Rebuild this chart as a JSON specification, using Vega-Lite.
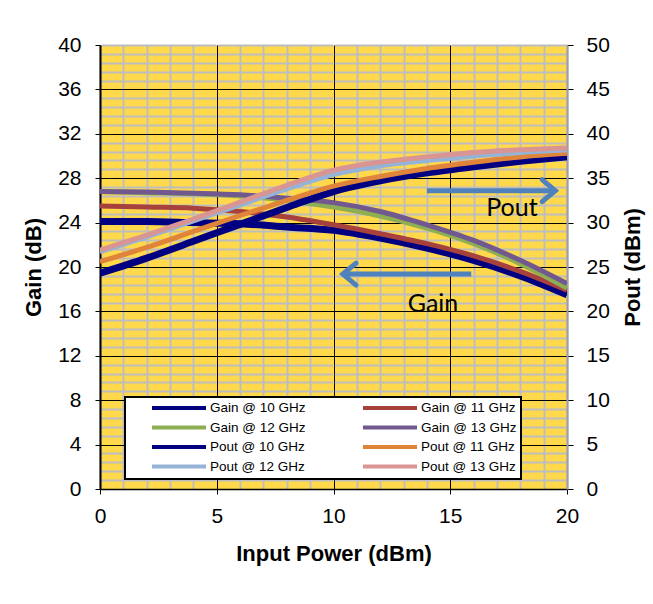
{
  "$schema": "https://vega.github.io/schema/vega-lite/v6.json",
  "width": 467,
  "height": 444,
  "autosize": {"type": "none"},
  "padding": {"left": 100, "top": 45, "right": 86, "bottom": 115},
  "background": "white",
  "config": {
    "view": {"fill": "#FFD84B", "stroke": null},
    "font": "Liberation Sans",
    "axis": {
      "labelFont": "Liberation Sans", "labelFontSize": 21, "labelColor": "black",
      "titleFont": "Liberation Sans", "titleFontSize": 22, "titleFontWeight": "bold", "titleColor": "black",
      "tickColor": "black", "domainColor": "black"
    },
    "legend": {
      "orient": "none", "legendX": 25, "legendY": 352, "columns": 2, "direction": "horizontal",
      "symbolType": "M -5.4 0 L 5.4 0", "symbolSize": 100, "symbolStrokeWidth": 4,
      "labelFont": "Liberation Sans", "labelFontSize": 13.5, "labelColor": "black", "labelOffset": 24,
      "fillColor": "white", "strokeColor": "black", "padding": 4, "rowPadding": 3.5,
      "columnPadding": 34, "symbolOffset": 43
    }
  },
  "datasets": {
    "gain": [
      {"series": "Gain @ 10 GHz", "x": 0, "gain": 24.1}, {"series": "Gain @ 10 GHz", "x": 2, "gain": 24.1}, {"series": "Gain @ 10 GHz", "x": 4, "gain": 24.0}, {"series": "Gain @ 10 GHz", "x": 6, "gain": 23.9}, {"series": "Gain @ 10 GHz", "x": 8, "gain": 23.6}, {"series": "Gain @ 10 GHz", "x": 10, "gain": 23.3}, {"series": "Gain @ 10 GHz", "x": 12, "gain": 22.6}, {"series": "Gain @ 10 GHz", "x": 14, "gain": 21.7}, {"series": "Gain @ 10 GHz", "x": 16, "gain": 20.6}, {"series": "Gain @ 10 GHz", "x": 18, "gain": 19.2}, {"series": "Gain @ 10 GHz", "x": 20, "gain": 17.5},
      {"series": "Gain @ 11 GHz", "x": 0, "gain": 25.5}, {"series": "Gain @ 11 GHz", "x": 2, "gain": 25.4}, {"series": "Gain @ 11 GHz", "x": 4, "gain": 25.3}, {"series": "Gain @ 11 GHz", "x": 6, "gain": 25.0}, {"series": "Gain @ 11 GHz", "x": 8, "gain": 24.5}, {"series": "Gain @ 11 GHz", "x": 10, "gain": 23.8}, {"series": "Gain @ 11 GHz", "x": 12, "gain": 23.0}, {"series": "Gain @ 11 GHz", "x": 14, "gain": 22.1}, {"series": "Gain @ 11 GHz", "x": 16, "gain": 21.0}, {"series": "Gain @ 11 GHz", "x": 18, "gain": 19.6}, {"series": "Gain @ 11 GHz", "x": 20, "gain": 17.9},
      {"series": "Gain @ 12 GHz", "x": 0, "gain": 26.8}, {"series": "Gain @ 12 GHz", "x": 2, "gain": 26.7}, {"series": "Gain @ 12 GHz", "x": 4, "gain": 26.6}, {"series": "Gain @ 12 GHz", "x": 6, "gain": 26.4}, {"series": "Gain @ 12 GHz", "x": 8, "gain": 26.0}, {"series": "Gain @ 12 GHz", "x": 10, "gain": 25.4}, {"series": "Gain @ 12 GHz", "x": 12, "gain": 24.6}, {"series": "Gain @ 12 GHz", "x": 14, "gain": 23.5}, {"series": "Gain @ 12 GHz", "x": 16, "gain": 22.1}, {"series": "Gain @ 12 GHz", "x": 18, "gain": 20.3}, {"series": "Gain @ 12 GHz", "x": 20, "gain": 18.1},
      {"series": "Gain @ 13 GHz", "x": 0, "gain": 26.8}, {"series": "Gain @ 13 GHz", "x": 2, "gain": 26.75}, {"series": "Gain @ 13 GHz", "x": 4, "gain": 26.65}, {"series": "Gain @ 13 GHz", "x": 6, "gain": 26.5}, {"series": "Gain @ 13 GHz", "x": 8, "gain": 26.2}, {"series": "Gain @ 13 GHz", "x": 10, "gain": 25.8}, {"series": "Gain @ 13 GHz", "x": 12, "gain": 25.0}, {"series": "Gain @ 13 GHz", "x": 14, "gain": 23.8}, {"series": "Gain @ 13 GHz", "x": 16, "gain": 22.4}, {"series": "Gain @ 13 GHz", "x": 18, "gain": 20.6}, {"series": "Gain @ 13 GHz", "x": 20, "gain": 18.5}
    ],
    "pout": [
      {"series": "Pout @ 10 GHz", "x": 0, "pout": 24.3}, {"series": "Pout @ 10 GHz", "x": 2, "pout": 26.0}, {"series": "Pout @ 10 GHz", "x": 4, "pout": 27.9}, {"series": "Pout @ 10 GHz", "x": 6, "pout": 29.8}, {"series": "Pout @ 10 GHz", "x": 8, "pout": 31.7}, {"series": "Pout @ 10 GHz", "x": 10, "pout": 33.5}, {"series": "Pout @ 10 GHz", "x": 12, "pout": 34.7}, {"series": "Pout @ 10 GHz", "x": 14, "pout": 35.6}, {"series": "Pout @ 10 GHz", "x": 16, "pout": 36.3}, {"series": "Pout @ 10 GHz", "x": 18, "pout": 36.9}, {"series": "Pout @ 10 GHz", "x": 20, "pout": 37.4},
      {"series": "Pout @ 11 GHz", "x": 0, "pout": 25.6}, {"series": "Pout @ 11 GHz", "x": 2, "pout": 27.2}, {"series": "Pout @ 11 GHz", "x": 4, "pout": 29.0}, {"series": "Pout @ 11 GHz", "x": 6, "pout": 30.8}, {"series": "Pout @ 11 GHz", "x": 8, "pout": 32.5}, {"series": "Pout @ 11 GHz", "x": 10, "pout": 34.1}, {"series": "Pout @ 11 GHz", "x": 12, "pout": 35.2}, {"series": "Pout @ 11 GHz", "x": 14, "pout": 36.1}, {"series": "Pout @ 11 GHz", "x": 16, "pout": 36.8}, {"series": "Pout @ 11 GHz", "x": 18, "pout": 37.4}, {"series": "Pout @ 11 GHz", "x": 20, "pout": 37.8},
      {"series": "Pout @ 12 GHz", "x": 0, "pout": 26.7}, {"series": "Pout @ 12 GHz", "x": 2, "pout": 28.4}, {"series": "Pout @ 12 GHz", "x": 4, "pout": 30.2}, {"series": "Pout @ 12 GHz", "x": 6, "pout": 32.0}, {"series": "Pout @ 12 GHz", "x": 8, "pout": 33.8}, {"series": "Pout @ 12 GHz", "x": 10, "pout": 35.4}, {"series": "Pout @ 12 GHz", "x": 12, "pout": 36.4}, {"series": "Pout @ 12 GHz", "x": 14, "pout": 37.0}, {"series": "Pout @ 12 GHz", "x": 16, "pout": 37.5}, {"series": "Pout @ 12 GHz", "x": 18, "pout": 37.9}, {"series": "Pout @ 12 GHz", "x": 20, "pout": 38.2},
      {"series": "Pout @ 13 GHz", "x": 0, "pout": 26.9}, {"series": "Pout @ 13 GHz", "x": 2, "pout": 28.6}, {"series": "Pout @ 13 GHz", "x": 4, "pout": 30.4}, {"series": "Pout @ 13 GHz", "x": 6, "pout": 32.3}, {"series": "Pout @ 13 GHz", "x": 8, "pout": 34.2}, {"series": "Pout @ 13 GHz", "x": 10, "pout": 35.9}, {"series": "Pout @ 13 GHz", "x": 12, "pout": 36.8}, {"series": "Pout @ 13 GHz", "x": 14, "pout": 37.4}, {"series": "Pout @ 13 GHz", "x": 16, "pout": 37.9}, {"series": "Pout @ 13 GHz", "x": 18, "pout": 38.2}, {"series": "Pout @ 13 GHz", "x": 20, "pout": 38.4}
    ],
    "arrows": [
      {"name": "Pout", "x": 14.0, "x2": 19.5, "pout": 33.6},
      {"name": "Gain", "x": 15.9, "x2": 10.4, "pout": 24.2}
    ],
    "labels": [
      {"label": "Pout", "x": 17.64, "pout": 31.6},
      {"label": "Gain", "x": 14.26, "pout": 20.8}
    ]
  },
  "resolve": {"scale": {"y": "independent"}},
  "layer": [
    {
      "data": {"name": "gain"},
      "mark": {"type": "line", "interpolate": "monotone", "clip": true},
      "encoding": {
        "x": {
          "field": "x", "type": "quantitative",
          "scale": {"domain": [0, 20], "nice": false},
          "axis": {
            "values": [0,1,2,3,4,5,6,7,8,9,10,11,12,13,14,15,16,17,18,19,20],
            "grid": true,
            "gridColor": {"condition": {"test": "datum.value % 5 === 0 && datum.value > 0 && datum.value < 20", "value": "#000000"}, "value": "#BDBDBD"},
            "gridWidth": {"condition": {"test": "datum.value % 5 === 0 && datum.value > 0 && datum.value < 20", "value": 1}, "value": 2},
            "labelExpr": "datum.value % 5 === 0 ? datum.label : ''",
            "labelOverlap": false, "labelFlush": false,
            "tickOpacity": {"condition": {"test": "datum.value % 5 !== 0", "value": 0}, "value": 1},
            "tickSize": 5, "labelPadding": 11, "domainWidth": 1.5,
            "title": "Input Power (dBm)", "titleY": 64, "titleBaseline": "middle"
          }
        },
        "y": {
          "field": "gain", "type": "quantitative",
          "scale": {"domain": [0, 40], "nice": false},
          "axis": {
            "orient": "left", "values": [0,4,8,12,16,20,24,28,32,36,40], "grid": false,
            "tickSize": 5, "labelPadding": 14, "domainWidth": 2,
            "title": "Gain (dB)", "titleAngle": 270, "titleX": -67, "titleY": 222,
            "titleBaseline": "middle", "titleAlign": "center"
          }
        },
        "color": {
          "field": "series", "type": "nominal",
          "scale": {
            "domain": ["Gain @ 10 GHz", "Gain @ 11 GHz", "Gain @ 12 GHz", "Gain @ 13 GHz", "Pout @ 10 GHz", "Pout @ 11 GHz", "Pout @ 12 GHz", "Pout @ 13 GHz"],
            "range": ["#000080", "#A7413E", "#8DAE52", "#71588F", "#000080", "#E0843A", "#94B3D7", "#D99594"]
          },
          "legend": {"title": null, "encode": {"legend": {"update": {"strokeWidth": {"value": 2}}}}}
        },
        "strokeWidth": {"condition": {"test": "indexof(datum.series, '10 GHz') >= 0", "value": 7}, "value": 5}
      }
    },
    {
      "layer": [
        {
          "data": {"name": "pout"},
          "mark": {"type": "line", "interpolate": "monotone", "clip": true},
          "encoding": {
            "x": {
              "field": "x", "type": "quantitative",
              "axis": {
                "values": [0,1,2,3,4,5,6,7,8,9,10,11,12,13,14,15,16,17,18,19,20],
                "grid": true,
                "gridColor": {"condition": {"test": "datum.value % 5 === 0 && datum.value > 0 && datum.value < 20", "value": "#000000"}, "value": "#BDBDBD"},
                "gridWidth": {"condition": {"test": "datum.value % 5 === 0 && datum.value > 0 && datum.value < 20", "value": 1}, "value": 2},
                "labelExpr": "datum.value % 5 === 0 ? datum.label : ''",
                "labelOverlap": false, "labelFlush": false,
                "tickOpacity": {"condition": {"test": "datum.value % 5 !== 0", "value": 0}, "value": 1},
                "tickSize": 5, "labelPadding": 11, "domainWidth": 1.5,
                "title": "Input Power (dBm)", "titleY": 64, "titleBaseline": "middle"
              }
            },
            "y": {
              "field": "pout", "type": "quantitative",
              "scale": {"domain": [0, 50], "nice": false},
              "axis": {
                "orient": "right",
                "values": [0,1,2,3,4,5,6,7,8,9,10,11,12,13,14,15,16,17,18,19,20,21,22,23,24,25,26,27,28,29,30,31,32,33,34,35,36,37,38,39,40,41,42,43,44,45,46,47,48,49,50],
                "grid": true,
                "gridColor": {"condition": {"test": "datum.value % 5 === 0 && datum.value > 0 && datum.value < 50", "value": "#000000"}, "value": "#BDBDBD"},
                "gridWidth": {"condition": {"test": "datum.value % 5 === 0 && datum.value > 0 && datum.value < 50", "value": 1}, "value": 2},
                "gridDash": {"condition": {"test": "datum.value % 5 === 0 && datum.value > 0 && datum.value < 50", "value": []}, "value": [115.25, 1.5]},
                "gridDashOffset": -0.75,
                "gridOpacity": {"condition": {"test": "datum.value === 0", "value": 0}, "value": 1},
                "labelExpr": "datum.value % 5 === 0 ? datum.label : ''",
                "labelOverlap": false, "labelFlush": false,
                "tickOpacity": {"condition": {"test": "datum.value % 5 !== 0", "value": 0}, "value": 1},
                "tickSize": 6, "labelPadding": 13, "domainColor": "#A0A0A0", "domainWidth": 2,
                "title": "Pout (dBm)", "titleAngle": 270, "titleX": 65, "titleY": 222,
                "titleBaseline": "middle", "titleAlign": "center"
              }
            },
            "color": {"field": "series", "type": "nominal"},
            "strokeWidth": {"condition": {"test": "indexof(datum.series, '10 GHz') >= 0", "value": 7}, "value": 5}
          }
        },
        {
          "data": {"name": "arrows"},
          "mark": {"type": "rule", "stroke": "#4F81BD", "strokeWidth": 5},
          "encoding": {
            "x": {
              "field": "x", "type": "quantitative",
              "axis": {
                "values": [0,1,2,3,4,5,6,7,8,9,10,11,12,13,14,15,16,17,18,19,20],
                "grid": true,
                "gridColor": {"condition": {"test": "datum.value % 5 === 0 && datum.value > 0 && datum.value < 20", "value": "#000000"}, "value": "#BDBDBD"},
                "gridWidth": {"condition": {"test": "datum.value % 5 === 0 && datum.value > 0 && datum.value < 20", "value": 1}, "value": 2},
                "labelExpr": "datum.value % 5 === 0 ? datum.label : ''",
                "labelOverlap": false, "labelFlush": false,
                "tickOpacity": {"condition": {"test": "datum.value % 5 !== 0", "value": 0}, "value": 1},
                "tickSize": 5, "labelPadding": 11, "domainWidth": 1.5,
                "title": "Input Power (dBm)", "titleY": 64, "titleBaseline": "middle"
              }
            },
            "x2": {"field": "x2"},
            "y": {
              "field": "pout", "type": "quantitative",
              "axis": {
                "orient": "right",
                "values": [0,1,2,3,4,5,6,7,8,9,10,11,12,13,14,15,16,17,18,19,20,21,22,23,24,25,26,27,28,29,30,31,32,33,34,35,36,37,38,39,40,41,42,43,44,45,46,47,48,49,50],
                "grid": true,
                "gridColor": {"condition": {"test": "datum.value % 5 === 0 && datum.value > 0 && datum.value < 50", "value": "#000000"}, "value": "#BDBDBD"},
                "gridWidth": {"condition": {"test": "datum.value % 5 === 0 && datum.value > 0 && datum.value < 50", "value": 1}, "value": 2},
                "gridDash": {"condition": {"test": "datum.value % 5 === 0 && datum.value > 0 && datum.value < 50", "value": []}, "value": [115.25, 1.5]},
                "gridDashOffset": -0.75,
                "gridOpacity": {"condition": {"test": "datum.value === 0", "value": 0}, "value": 1},
                "labelExpr": "datum.value % 5 === 0 ? datum.label : ''",
                "labelOverlap": false, "labelFlush": false,
                "tickOpacity": {"condition": {"test": "datum.value % 5 !== 0", "value": 0}, "value": 1},
                "tickSize": 6, "labelPadding": 13, "domainColor": "#A0A0A0", "domainWidth": 2,
                "title": "Pout (dBm)", "titleAngle": 270, "titleX": 65, "titleY": 222,
                "titleBaseline": "middle", "titleAlign": "center"
              }
            }
          }
        },
        {
          "data": {"name": "arrows"},
          "mark": {"type": "point", "shape": "M -1.2 -1 L 0 0 L -1.2 1", "filled": false, "stroke": "#4F81BD", "strokeWidth": 5, "size": 484, "opacity": 1, "strokeCap": "round"},
          "encoding": {
            "x": {
              "field": "x2", "type": "quantitative",
              "axis": {
                "values": [0,1,2,3,4,5,6,7,8,9,10,11,12,13,14,15,16,17,18,19,20],
                "grid": true,
                "gridColor": {"condition": {"test": "datum.value % 5 === 0 && datum.value > 0 && datum.value < 20", "value": "#000000"}, "value": "#BDBDBD"},
                "gridWidth": {"condition": {"test": "datum.value % 5 === 0 && datum.value > 0 && datum.value < 20", "value": 1}, "value": 2},
                "labelExpr": "datum.value % 5 === 0 ? datum.label : ''",
                "labelOverlap": false, "labelFlush": false,
                "tickOpacity": {"condition": {"test": "datum.value % 5 !== 0", "value": 0}, "value": 1},
                "tickSize": 5, "labelPadding": 11, "domainWidth": 1.5,
                "title": "Input Power (dBm)", "titleY": 64, "titleBaseline": "middle"
              }
            },
            "y": {
              "field": "pout", "type": "quantitative",
              "axis": {
                "orient": "right",
                "values": [0,1,2,3,4,5,6,7,8,9,10,11,12,13,14,15,16,17,18,19,20,21,22,23,24,25,26,27,28,29,30,31,32,33,34,35,36,37,38,39,40,41,42,43,44,45,46,47,48,49,50],
                "grid": true,
                "gridColor": {"condition": {"test": "datum.value % 5 === 0 && datum.value > 0 && datum.value < 50", "value": "#000000"}, "value": "#BDBDBD"},
                "gridWidth": {"condition": {"test": "datum.value % 5 === 0 && datum.value > 0 && datum.value < 50", "value": 1}, "value": 2},
                "gridDash": {"condition": {"test": "datum.value % 5 === 0 && datum.value > 0 && datum.value < 50", "value": []}, "value": [115.25, 1.5]},
                "gridDashOffset": -0.75,
                "gridOpacity": {"condition": {"test": "datum.value === 0", "value": 0}, "value": 1},
                "labelExpr": "datum.value % 5 === 0 ? datum.label : ''",
                "labelOverlap": false, "labelFlush": false,
                "tickOpacity": {"condition": {"test": "datum.value % 5 !== 0", "value": 0}, "value": 1},
                "tickSize": 6, "labelPadding": 13, "domainColor": "#A0A0A0", "domainWidth": 2,
                "title": "Pout (dBm)", "titleAngle": 270, "titleX": 65, "titleY": 222,
                "titleBaseline": "middle", "titleAlign": "center"
              }
            },
            "angle": {"condition": {"test": "datum.name === 'Gain'", "value": 180}, "value": 0}
          }
        },
        {
          "data": {"name": "labels"},
          "mark": {"type": "text", "font": "Lato", "fontSize": 25, "color": "black", "align": "center", "baseline": "middle"},
          "encoding": {
            "x": {
              "field": "x", "type": "quantitative",
              "axis": {
                "values": [0,1,2,3,4,5,6,7,8,9,10,11,12,13,14,15,16,17,18,19,20],
                "grid": true,
                "gridColor": {"condition": {"test": "datum.value % 5 === 0 && datum.value > 0 && datum.value < 20", "value": "#000000"}, "value": "#BDBDBD"},
                "gridWidth": {"condition": {"test": "datum.value % 5 === 0 && datum.value > 0 && datum.value < 20", "value": 1}, "value": 2},
                "labelExpr": "datum.value % 5 === 0 ? datum.label : ''",
                "labelOverlap": false, "labelFlush": false,
                "tickOpacity": {"condition": {"test": "datum.value % 5 !== 0", "value": 0}, "value": 1},
                "tickSize": 5, "labelPadding": 11, "domainWidth": 1.5,
                "title": "Input Power (dBm)", "titleY": 64, "titleBaseline": "middle"
              }
            },
            "y": {
              "field": "pout", "type": "quantitative",
              "axis": {
                "orient": "right",
                "values": [0,1,2,3,4,5,6,7,8,9,10,11,12,13,14,15,16,17,18,19,20,21,22,23,24,25,26,27,28,29,30,31,32,33,34,35,36,37,38,39,40,41,42,43,44,45,46,47,48,49,50],
                "grid": true,
                "gridColor": {"condition": {"test": "datum.value % 5 === 0 && datum.value > 0 && datum.value < 50", "value": "#000000"}, "value": "#BDBDBD"},
                "gridWidth": {"condition": {"test": "datum.value % 5 === 0 && datum.value > 0 && datum.value < 50", "value": 1}, "value": 2},
                "gridDash": {"condition": {"test": "datum.value % 5 === 0 && datum.value > 0 && datum.value < 50", "value": []}, "value": [115.25, 1.5]},
                "gridDashOffset": -0.75,
                "gridOpacity": {"condition": {"test": "datum.value === 0", "value": 0}, "value": 1},
                "labelExpr": "datum.value % 5 === 0 ? datum.label : ''",
                "labelOverlap": false, "labelFlush": false,
                "tickOpacity": {"condition": {"test": "datum.value % 5 !== 0", "value": 0}, "value": 1},
                "tickSize": 6, "labelPadding": 13, "domainColor": "#A0A0A0", "domainWidth": 2,
                "title": "Pout (dBm)", "titleAngle": 270, "titleX": 65, "titleY": 222,
                "titleBaseline": "middle", "titleAlign": "center"
              }
            },
            "text": {"field": "label"}
          }
        }
      ]
    }
  ]
}
